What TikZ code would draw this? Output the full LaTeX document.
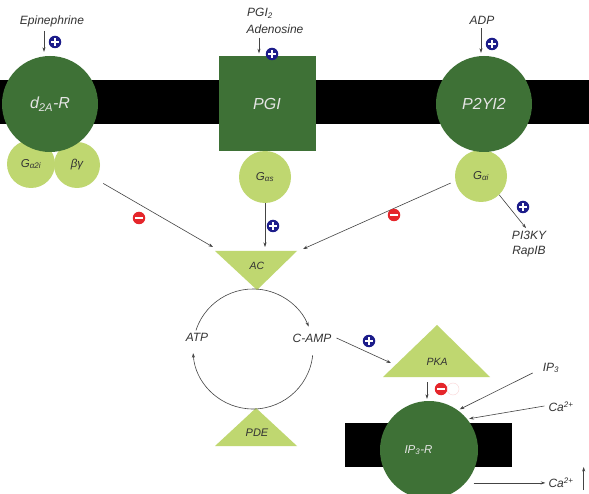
\documentclass[tikz,border=0pt]{standalone}
\usepackage{fontspec}
\setmainfont{Liberation Sans}
\usetikzlibrary{arrows.meta,positioning}
\definecolor{rcgreen}{HTML}{3E7136}
\definecolor{gplight}{HTML}{BFD770}
\definecolor{actblue}{HTML}{1C1C8A}
\definecolor{inhred}{HTML}{E5262B}
\definecolor{lngray}{HTML}{444444}
\definecolor{txgray}{HTML}{333333}

\begin{document}
\begin{tikzpicture}[x=1pt,y=-1pt,
   receptor/.style={circle,fill=rcgreen,inner sep=0pt,text=white!90!black,
                    font=\fontsize{16}{18}\selectfont\itshape},
   gprot/.style={circle,fill=gplight,inner sep=0pt,text=txgray,
                 font=\fontsize{11.5}{13}\selectfont\itshape},
   lbl/.style={font=\fontsize{12}{14.5}\selectfont\itshape,text=txgray,inner sep=1pt},
   enzlbl/.style={font=\fontsize{10.5}{12}\selectfont\itshape,text=txgray,inner sep=1pt},
   enzyme/.style={fill=gplight},
   actsign/.style={circle,fill=actblue,minimum size=12.5pt,inner sep=0pt,
     path picture={\draw[white,line width=2pt]
       ([xshift=-3.6pt]path picture bounding box.center)--([xshift=3.6pt]path picture bounding box.center)
       ([yshift=-3.6pt]path picture bounding box.center)--([yshift=3.6pt]path picture bounding box.center);}},
   inhsign/.style={circle,fill=inhred,minimum size=12.5pt,inner sep=0pt,
     path picture={\draw[white,line width=2pt]
       ([xshift=-3.6pt]path picture bounding box.center)--([xshift=3.6pt]path picture bounding box.center);}},
   ar/.style={-{Stealth[length=1.6mm,width=1.1mm]},lngray,line width=0.6pt},
   cyc/.style={-{Stealth[length=1.6mm,width=1.1mm]},lngray,line width=0.6pt}]
  \useasboundingbox[fill=white] (0,0) rectangle (589,494);
  % membranes
  \fill[black] (0,80) rectangle (589,124);
  \fill[black] (345,423) rectangle (512,467);
  % G proteins
  \node[gprot,minimum size=48pt] (ga2i) at (31,164) {G\textsubscript{α2i}};
  \node[gprot,minimum size=46pt] (bg) at (77,165) {βγ};
  \node[gprot,minimum size=52pt] (gas) at (265,177) {G\textsubscript{αs}};
  \node[gprot,minimum size=52pt] (gai) at (481,176) {G\textsubscript{αi}};
  % receptors
  \node[receptor,minimum size=96pt] (d2ar) at (50,104) {d\textsubscript{2A}-R};
  \node[receptor,rectangle,minimum width=97pt,minimum height=95pt] (pgi) at (267,104) {PGI};
  \node[receptor,minimum size=96pt] (p2y) at (484,104) {P2YI2};
  \node[receptor,minimum size=98pt,font=\fontsize{11.5}{13}\selectfont\itshape] (ip3r) at (429,450)
       {\hspace*{-21pt}IP\textsubscript{3}-R\raisebox{6pt}{}};
  % enzymes
  \fill[enzyme] (215,251) coordinate (acl) -- (297,251) coordinate (acr)
                -- (257,290) coordinate (acb) -- cycle;
  \fill[enzyme] (256,408) coordinate (pdet) -- (297,446) -- (215,446) -- cycle;
  \fill[enzyme] (437,325) -- (490,377) -- (383,377) coordinate (pkal) -- cycle;
  \node[enzlbl] (ac) at (257,266) {AC};
  \node[enzlbl,font=\fontsize{11}{12}\selectfont\itshape] (pde) at (257,433) {PDE};
  \node[enzlbl] (pka) at (437,362) {PKA};
  % ligands
  \node[lbl] (epi) at (52,21) {Epinephrine};
  \node[lbl] (pgi2) at (260,13) {PGI\textsubscript{2}};
  \node[lbl] (adeno) at (275,29) {Adenosine};
  \node[lbl] (adp) at (482,20) {ADP};
  \node[lbl,align=center] (pi3k) at (529,244) {PI3KY\\RapIB};
  \node[lbl] (atp) at (197,337) {ATP};
  \node[lbl] (camp) at (312,338) {C-AMP};
  \node[lbl] (ip3) at (551,368) {IP\textsubscript{3}};
  \node[lbl] (caup) at (561,407) {Ca\textsuperscript{2+}};
  \node[lbl] (cadown) at (561,483) {Ca\textsuperscript{2+}};
  % arrows
  \draw[ar] ([xshift=-8pt,yshift=-3pt]epi.south) -- ([xshift=-6pt,yshift=4pt]d2ar.north);
  \draw[ar] ([xshift=-1pt,yshift=-3pt]adeno.south west -| pgi2.south) -- ([xshift=-8pt,yshift=3pt]pgi.north);
  \draw[ar] ([xshift=-1pt,yshift=-3pt]adp.south) -- ([xshift=-3pt,yshift=3pt]p2y.north);
  \draw[ar] (gai.-46) -- ([xshift=-3pt,yshift=2pt]pi3k.north);
  \draw[ar,shorten <=9pt] (bg.-37) -- ([xshift=-2pt,yshift=4pt]acl);
  \draw[ar] (gas.south) -- ([yshift=4pt]gas.south |- acl);
  \draw[ar,shorten <=5pt] (gai.191) -- ([xshift=6pt,yshift=2pt]acr);
  \draw[cyc] (253,349) ++(-162:60) arc[start angle=-162,end angle=-22,radius=60];
  \draw[cyc] (253,349) ++(6:60) arc[start angle=6,end angle=176,radius=60];
  \draw[ar] ([xshift=4pt]camp.east) -- ([xshift=8pt,yshift=14pt]pkal);
  \draw[ar] ([xshift=-10pt,yshift=-5pt]pka.south |- pkal) -- ([xshift=-2pt,yshift=2pt]ip3r.north);
  \draw[ar,shorten >=2pt] ([xshift=-9pt,yshift=-5pt]ip3.west) -- (ip3r.54);
  \draw[ar,shorten >=2pt] ([xshift=-3pt,yshift=1pt]caup.west) -- (ip3r.39);
  \draw[ar] ([xshift=8pt]ip3r.-42) -- ([xshift=-2pt]ip3r.-42 -| cadown.west);
  \draw[ar] ([xshift=9pt,yshift=-7pt]cadown.east) -- ++(0,-23);
  % signs
  \node[actsign] (epiact) at (55,42) {};
  \node[actsign] (pgiact) at (272,54) {};
  \node[actsign] (adpact) at (492,44) {};
  \node[actsign] (pi3kact) at (523,207) {};
  \node[actsign] (gasact) at (273,226) {};
  \node[actsign] (campact) at (369,341) {};
  \node[inhsign] (ga2iinh) at (139,218) {};
  \node[inhsign] (gaiinh) at (394,215) {};
  \node[inhsign] (pkainh) at (441,389) {};
  \node[circle,draw=inhred!20,minimum size=12pt,inner sep=0pt] (ghost) at (453,389) {};
\end{tikzpicture}
\end{document}
